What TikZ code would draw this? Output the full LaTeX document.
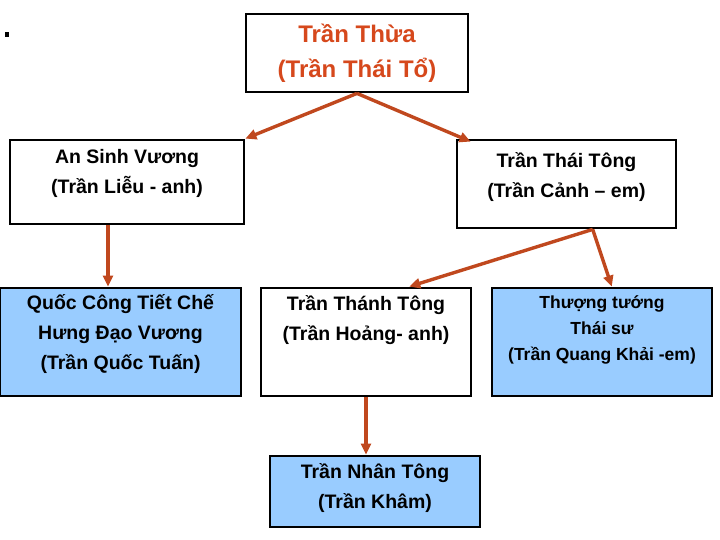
\documentclass[tikz,border=0pt]{standalone}
\usepackage{fontspec}
\setmainfont{Liberation Sans}
\usetikzlibrary{arrows.meta,positioning,calc}
\definecolor{famblue}{RGB}{153,204,255}
\definecolor{famarrow}{RGB}{192,72,30}
\definecolor{famred}{RGB}{214,72,28}
\newcommand{\capline}[1]{\rule{0pt}{#1pt}}
\tikzset{
  person/.style={draw, line width=2.8pt, inner sep=0pt, fill=white},
  heir/.style={person, fill=famblue},
  txt/.style={font=\fontsize{19.5}{30}\selectfont\bfseries, align=center, anchor=north, inner sep=0pt},
  arrow/.style={-{Triangle[length=11pt,width=10pt]}, line width=3.4pt, draw=famarrow}
}

\begin{document}
\begin{tikzpicture}[x=1pt,y=-1pt]
  \useasboundingbox (0,0) rectangle (720,540);
  \node[fill=black, inner sep=0pt, minimum width=4pt, minimum height=5pt] (dot) at (7,34.5) {};

  \node[person, minimum width=222, minimum height=78,
    label={[txt, text=famred, font=\fontsize{24}{35}\selectfont\bfseries, yshift=-6pt]north:{\capline{24}Trần Thừa\\(Trần Thái Tổ)}}] (thua) at (357,53) {};

  \node[person, minimum width=234, minimum height=84,
    label={[txt, yshift=-5pt]north:{\capline{20}An Sinh Vương\\(Trần Liễu - anh)}}] (ansinh) at (127,182) {};
  \node[person, minimum width=219, minimum height=88,
    label={[txt, yshift=-9pt]north:{\capline{20}Trần Thái Tông\\(Trần Cảnh – em)}}] (thaitong) at (566.5,184) {};

  \node[heir, minimum width=241, minimum height=108,
    label={[txt, yshift=-3pt]north:{\capline{20}Quốc Công Tiết Chế\\Hưng Đạo Vương\\(Trần Quốc Tuấn)}}] (quoc) at (120.5,342) {};
  \node[person, minimum width=210, minimum height=108,
    label={[txt, yshift=-4pt]north:{\capline{20}Trần Thánh Tông\\(Trần Hoảng- anh)}}] (thanh) at (366,342) {};
  \node[heir, minimum width=220, minimum height=108,
    label={[txt, font=\fontsize{17.5}{26}\selectfont\bfseries, yshift=-5pt]north:{\capline{17}Thượng tướng\\Thái sư\\(Trần Quang Khải -em)}}] (thuong) at (602,342) {};

  \node[heir, minimum width=210, minimum height=71,
    label={[txt, yshift=-4pt]north:{\capline{20}Trần Nhân Tông\\(Trần Khâm)}}] (nhan) at (375,491.5) {};

  \coordinate (asdown) at ($(ansinh.south)+(-19,0)$);
  \draw[arrow] (thua.south) -- (ansinh.north east);
  \draw[arrow] (thua.south) -- ($(thaitong.north west)+(15,3)$);
  \draw[arrow] (asdown) -- (asdown |- quoc.north);
  \draw[arrow] (thaitong.-60) -- (thanh.52);
  \draw[arrow] (thaitong.-60) -- (thuong.80);
  \draw[arrow] (thanh.south) -- (thanh.south |- nhan.north);
\end{tikzpicture}
\end{document}
